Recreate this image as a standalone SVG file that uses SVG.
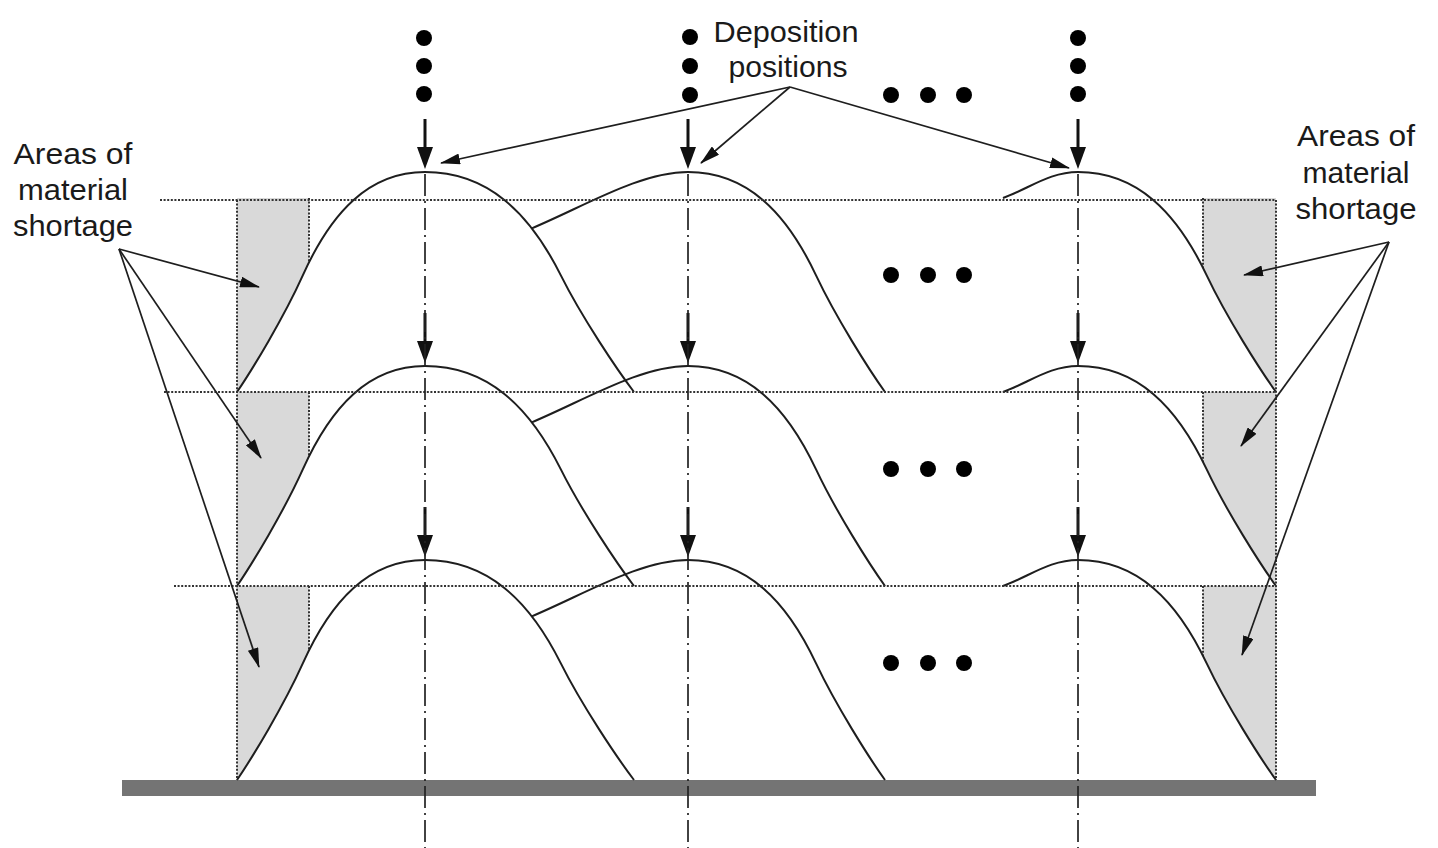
<svg xmlns="http://www.w3.org/2000/svg" xmlns:xlink="http://www.w3.org/1999/xlink" width="1438" height="848" viewBox="0 0 1438 848">
<style>
.bead{fill:none;stroke:#1e1e1e;stroke-width:2}
.shade{fill:#d9d9d9;stroke:none}
.dot{stroke:#333;stroke-width:2;stroke-dasharray:2 1.6;fill:none}
.axis{stroke:#222;stroke-width:1.7;stroke-dasharray:22 5 2 5;fill:none}
.shaft{stroke:#111;stroke-width:3}
.head{fill:#111}
.lead{stroke:#1e1e1e;stroke-width:1.7;fill:none;marker-end:url(#tip)}
.blob{fill:#000}
.lbl{font-family:"Liberation Sans",Arial,sans-serif;font-size:29px;fill:#1a1a1a;text-anchor:middle}
</style>
<defs>
<marker id="tip" markerUnits="userSpaceOnUse" markerWidth="20" markerHeight="11" viewBox="0 0 20 11" refX="19" refY="5.5" orient="auto">
<path d="M0,0 L20,5.5 L0,11 z" fill="#111"/>
</marker>
<clipPath id="clipL"><path d="M200,560 L425,560 C368.6,560 331,600.7 302.8,663.4 C284,705.2 252,758 237,780 L200,780 Z"/></clipPath>
<clipPath id="clipR"><path d="M1078,560 C1137.4,560 1177,600.7 1206.7,663.4 C1226.5,705.2 1260.16,758 1276,780 L1300,780 L1300,560 Z"/></clipPath>
<g id="layer">
<g clip-path="url(#clipL)">
<rect class="shade" x="237" y="586" width="72" height="194"/>
<line class="dot" x1="309" y1="586" x2="309" y2="780"/>
</g>
<g clip-path="url(#clipR)">
<rect class="shade" x="1203" y="586" width="73" height="194"/>
<line class="dot" x1="1203" y1="586" x2="1203" y2="780"/>
</g>
<path class="bead" d="M237,780 C252,758 284,705.2 302.8,663.4 C331,600.7 368.6,560 425,560 C487.7,560 529.5,600.7 560.85,663.4 C581.75,705.2 617.28,758 634,780"/>
<path class="bead" d="M531.8,616.3 C585,594 640,560 688,560 C747.1,560 786.5,600.7 816.05,663.4 C835.75,705.2 869.24,758 885,780"/>
<path class="bead" d="M1003,586 C1030,576 1050,560 1078,560 C1137.4,560 1177,600.7 1206.7,663.4 C1226.5,705.2 1260.16,758 1276,780"/>
<line class="shaft" x1="425" y1="507" x2="425" y2="538"/>
<polygon class="head" points="417,535 433,535 425,557"/>
<line class="shaft" x1="688" y1="507" x2="688" y2="538"/>
<polygon class="head" points="680,535 696,535 688,557"/>
<line class="shaft" x1="1078" y1="507" x2="1078" y2="538"/>
<polygon class="head" points="1070,535 1086,535 1078,557"/>
<circle class="blob" cx="891" cy="663" r="8"/>
<circle class="blob" cx="928" cy="663" r="8"/>
<circle class="blob" cx="964" cy="663" r="8"/>
</g>
</defs>

<rect id="substrate" x="122" y="780" width="1194" height="16" fill="#747474"/>

<g id="layer-bottom"><use xlink:href="#layer" href="#layer"/></g>
<g id="layer-middle"><use xlink:href="#layer" href="#layer" transform="translate(0,-194)"/></g>
<g id="layer-top"><use xlink:href="#layer" href="#layer" transform="translate(0,-388)"/></g>

<g id="guides">
<line class="dot" x1="160" y1="200" x2="1276" y2="200"/>
<line class="dot" x1="164" y1="392" x2="1276" y2="392"/>
<line class="dot" x1="174" y1="586" x2="1276" y2="586"/>
<line class="dot" x1="237" y1="200" x2="237" y2="780"/>
<line class="dot" x1="1276" y1="200" x2="1276" y2="780"/>
<line class="axis" x1="425" y1="174" x2="425" y2="848"/>
<line class="axis" x1="688" y1="174" x2="688" y2="848"/>
<line class="axis" x1="1078" y1="174" x2="1078" y2="848"/>
</g>

<g id="ellipsis-top">
<circle class="blob" cx="424" cy="38" r="8"/>
<circle class="blob" cx="424" cy="66" r="8"/>
<circle class="blob" cx="424" cy="94" r="8"/>
<circle class="blob" cx="690" cy="37" r="8"/>
<circle class="blob" cx="690" cy="66" r="8"/>
<circle class="blob" cx="690" cy="95" r="8"/>
<circle class="blob" cx="1078" cy="38" r="8"/>
<circle class="blob" cx="1078" cy="66" r="8"/>
<circle class="blob" cx="1078" cy="94" r="8"/>
<circle class="blob" cx="891" cy="95" r="8"/>
<circle class="blob" cx="928" cy="95" r="8"/>
<circle class="blob" cx="964" cy="95" r="8"/>
</g>

<g id="connectors">
<line class="lead" x1="790" y1="87" x2="441" y2="163"/>
<line class="lead" x1="790" y1="87" x2="701" y2="163"/>
<line class="lead" x1="790" y1="87" x2="1069" y2="168"/>
<line class="lead" x1="119" y1="249" x2="259" y2="287"/>
<line class="lead" x1="119" y1="249" x2="261" y2="458"/>
<line class="lead" x1="119" y1="249" x2="259" y2="667"/>
<line class="lead" x1="1389" y1="242" x2="1244" y2="275"/>
<line class="lead" x1="1389" y1="242" x2="1241" y2="446"/>
<line class="lead" x1="1389" y1="242" x2="1242" y2="655"/>
</g>

<g id="label-deposition">
<text class="lbl" x="786" y="42" textLength="145" lengthAdjust="spacingAndGlyphs">Deposition</text>
<text class="lbl" x="788" y="77" textLength="119" lengthAdjust="spacingAndGlyphs">positions</text>
</g>
<g id="label-left">
<text class="lbl" x="73" y="164" textLength="119" lengthAdjust="spacingAndGlyphs">Areas of</text>
<text class="lbl" x="73" y="200" textLength="110" lengthAdjust="spacingAndGlyphs">material</text>
<text class="lbl" x="73" y="236" textLength="120" lengthAdjust="spacingAndGlyphs">shortage</text>
</g>
<g id="label-right">
<text class="lbl" x="1356" y="146" textLength="118" lengthAdjust="spacingAndGlyphs">Areas of</text>
<text class="lbl" x="1356" y="183" textLength="107" lengthAdjust="spacingAndGlyphs">material</text>
<text class="lbl" x="1356" y="219" textLength="121" lengthAdjust="spacingAndGlyphs">shortage</text>
</g>
</svg>
